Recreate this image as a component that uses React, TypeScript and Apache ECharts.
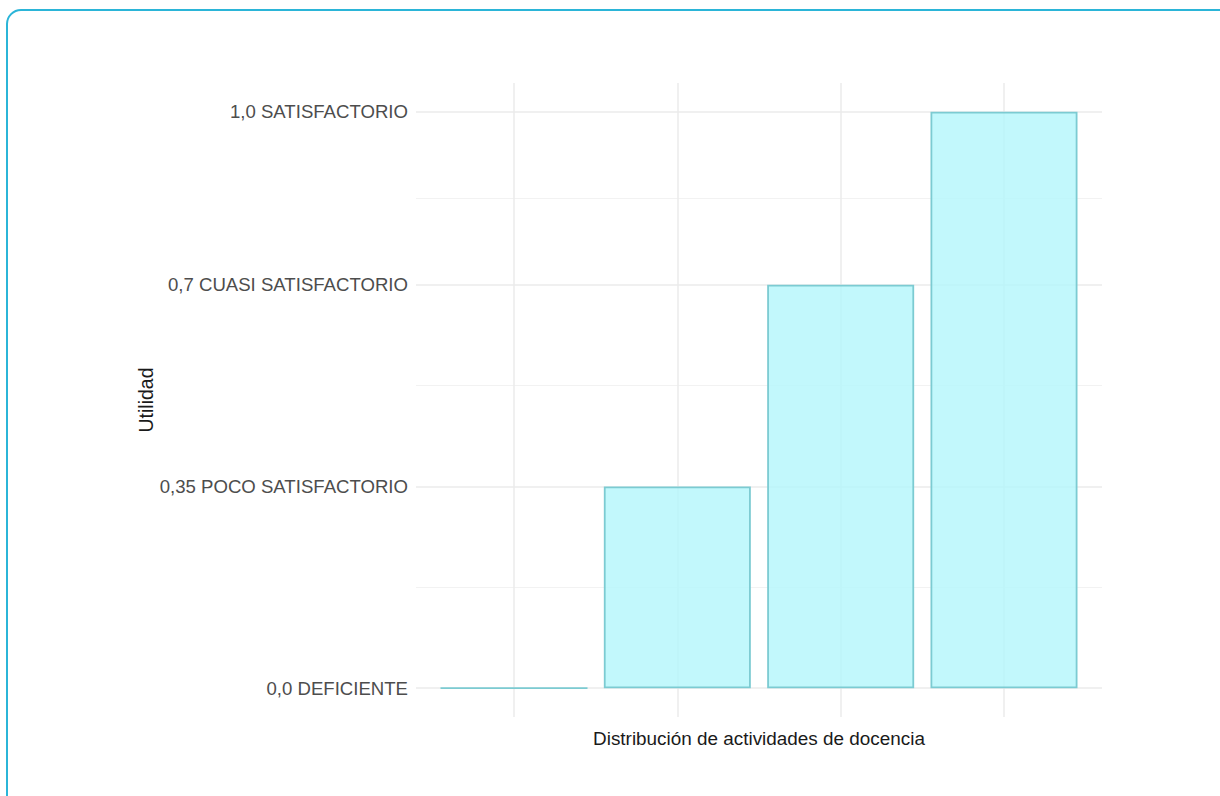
import React, { useEffect, useRef } from "react";
import * as echarts from "echarts";

const categories = [1, 2, 3, 4];
const values = [0.0, 0.35, 0.7, 1.0];
const majorTicks = [0, 0.35, 0.7, 1.0];
const minorTicks = [0.175, 0.525, 0.85];
const tickLabels: Record<string, string> = {
  "0": "0,0 DEFICIENTE",
  "0.35": "0,35 POCO SATISFACTORIO",
  "0.7": "0,7 CUASI SATISFACTORIO",
  "1": "1,0 SATISFACTORIO",
};
const xTitle = "Distribución de actividades de docencia";
const yTitle = "Utilidad";

export default function App() {
  const ref = useRef<HTMLDivElement>(null);
  useEffect(() => {
    if (!ref.current) return;
    const chart = echarts.init(ref.current, null, { renderer: "svg" });
    const font = "'Liberation Sans', Arial, Helvetica, sans-serif";
    chart.setOption({
      animation: false,
      backgroundColor: "#ffffff",
      textStyle: { fontFamily: font },
      grid: { left: 416, right: 118, top: 83, bottom: 79, containLabel: false },
      graphic: [
        {
          type: "rect",
          shape: { x: 7, y: 10, width: 1260, height: 840, r: 14 },
          style: { fill: "none", stroke: "#2bb5d8", lineWidth: 2 },
          silent: true,
          z: 100,
        },
      ],
      xAxis: {
        type: "value",
        min: 0.4,
        max: 4.6,
        name: xTitle,
        nameLocation: "middle",
        nameGap: 12,
        nameMoveOverlap: false,
        nameTextStyle: { color: "#1a1a1a", fontSize: 18.9, fontFamily: font, verticalAlign: "top" },
        axisLine: { show: false },
        axisTick: { show: false, customValues: categories },
        axisLabel: { show: false, customValues: categories },
        splitLine: { show: true, lineStyle: { color: "#ebebeb", width: 1.5 } },
      },
      yAxis: [
        {
          type: "value",
          min: -0.05,
          max: 1.05,
          name: yTitle,
          nameLocation: "middle",
          nameGap: 260,
          nameRotate: 90,
          nameMoveOverlap: false,
          nameTextStyle: { color: "#1a1a1a", fontSize: 19.5, fontFamily: font },
          axisLine: { show: false },
          axisTick: { show: false, customValues: majorTicks },
          axisLabel: {
            show: true,
            customValues: majorTicks,
            margin: 8,
            color: "#4d4d4d",
            fontSize: 18.6,
            fontFamily: font,
            formatter: (v: number) => tickLabels[String(v)] ?? "",
          },
          splitLine: { show: true, lineStyle: { color: "#ebebeb", width: 1.6 } },
        },
        {
          type: "value",
          min: -0.05,
          max: 1.05,
          axisLine: { show: false },
          axisTick: { show: false, customValues: minorTicks },
          axisLabel: { show: false, customValues: minorTicks },
          splitLine: { show: true, lineStyle: { color: "#f2f2f2", width: 1 } },
        },
      ],
      series: [
        {
          type: "bar",
          yAxisIndex: 0,
          data: categories.map((c, i) => [c, values[i]]),
          barWidth: 147,
          itemStyle: {
            color: "rgba(179,246,251,0.8)",
            borderColor: "#7ccbd2",
            borderWidth: 1.8,
          },
        },
      ],
    });
    return () => chart.dispose();
  }, []);
  return (
    <div
      ref={ref}
      style={{ position: "fixed", left: 0, top: 0, width: 1220, height: 796 }}
    />
  );
}
